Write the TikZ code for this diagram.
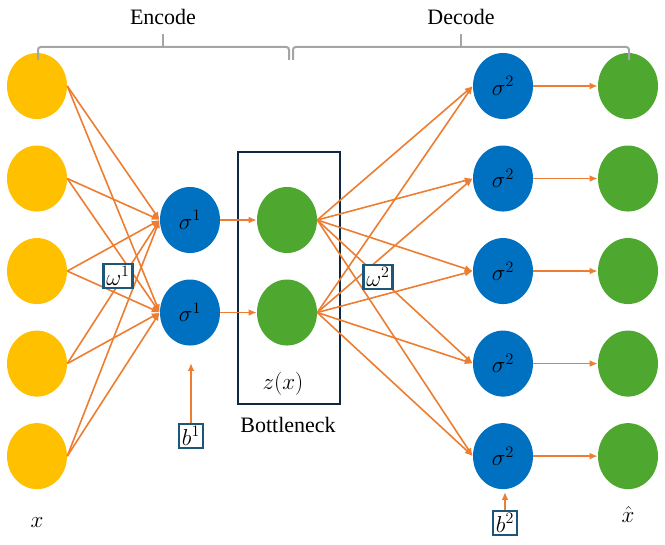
\documentclass[tikz,border=0pt]{standalone}
\usepackage{fontspec}
\setmainfont{Liberation Serif}
\usetikzlibrary{arrows.meta,positioning,shapes.geometric}
\definecolor{unitYellow}{HTML}{FFC000}
\definecolor{unitBlue}{HTML}{0070C0}
\definecolor{unitGreen}{HTML}{4EA72E}
\definecolor{wireOrange}{HTML}{ED7D31}
\definecolor{boxBlue}{RGB}{28,86,120}
\definecolor{frameDark}{RGB}{14,40,65}
\definecolor{braceGray}{RGB}{165,165,165}
\begin{document}
\begin{tikzpicture}[
		x=0.75pt, y=-0.75pt,
		node distance=19.5pt and 0.3cm,
		unit/.style={ellipse, minimum width=45pt, minimum height=49.5pt, inner sep=0pt, font=\fontsize{18}{22}\selectfont},
		inunit/.style={unit, fill=unitYellow},
		actunit/.style={unit, fill=unitBlue},
		codeunit/.style={unit, fill=unitGreen},
		keybox/.style={rectangle, draw=boxBlue, line width=1.8pt, fill=white, inner sep=2pt, font=\fontsize{18}{22}\selectfont},
		wire/.style={draw=wireOrange, line width=1.2pt, -{Latex[length=6pt,width=5pt]}},
		brace/.style={draw=braceGray, line width=1.5pt, rounded corners=2pt},
		lbl/.style={font=\fontsize{16.5}{20}\selectfont},
		mlbl/.style={font=\fontsize{18}{22}\selectfont}
	]
		\useasboundingbox (0,0) rectangle (665,545);
		
		% input layer
		\node[inunit] at (37,86)(x-1){};
		\node[inunit](x-2)[below =of x-1]{};
		\node[inunit](x-3)[below =of x-2]{};
		\node[inunit](x-4)[below =of x-3]{};
		\node[inunit](x-5)[below =of x-4]{};
		
		% encoder units and bottleneck
		\node[actunit] at (190,220)(h-1){$\sigma^1$};
		\node[actunit](h-2)[below =of h-1]{$\sigma^1$};
		\node[codeunit] at (287,220)(z-1){};
		\node[codeunit](z-2)[below =of z-1]{};
		\node[rectangle, draw=frameDark, line width=1.2pt, minimum width=76.5pt, minimum height=189pt] at (289,278)(bneck){};
		\node[mlbl] at (283,384)(zx){$z(x)$};
		\node[lbl] at (288,425)(bneck-lbl){Bottleneck};
		
		% decoder units and output
		\node[actunit] at (503,86)(o-1){$\sigma^2$};
		\node[actunit](o-2)[below =of o-1]{$\sigma^2$};
		\node[actunit](o-3)[below =of o-2]{$\sigma^2$};
		\node[actunit](o-4)[below =of o-3]{$\sigma^2$};
		\node[actunit](o-5)[below =of o-4]{$\sigma^2$};
		\node[codeunit] at (628,86)(y-1){};
		\node[codeunit](y-2)[below =of y-1]{};
		\node[codeunit](y-3)[below =of y-2]{};
		\node[codeunit](y-4)[below =of y-3]{};
		\node[codeunit](y-5)[below =of y-4]{};
		
		\draw[wire](x-1.east) -- (h-1.west);
		\draw[wire](x-1.east) -- (h-2.west);
		\draw[wire](x-2.east) -- (h-1.west);
		\draw[wire](x-2.east) -- (h-2.west);
		\draw[wire](x-3.east) -- (h-1.west);
		\draw[wire](x-3.east) -- (h-2.west);
		\draw[wire](x-4.east) -- (h-1.west);
		\draw[wire](x-4.east) -- (h-2.west);
		\draw[wire](x-5.east) -- (h-1.west);
		\draw[wire](x-5.east) -- (h-2.west);
		\draw[wire](h-1) -- (z-1);
		\draw[wire](h-2) -- (z-2);
		\draw[wire](z-1.east) -- (o-1.west);
		\draw[wire](z-1.east) -- (o-2.west);
		\draw[wire](z-1.east) -- (o-3.west);
		\draw[wire](z-1.east) -- (o-4.west);
		\draw[wire](z-1.east) -- (o-5.west);
		\draw[wire](z-2.east) -- (o-1.west);
		\draw[wire](z-2.east) -- (o-2.west);
		\draw[wire](z-2.east) -- (o-3.west);
		\draw[wire](z-2.east) -- (o-4.west);
		\draw[wire](z-2.east) -- (o-5.west);
		\draw[wire](o-1) -- (y-1);
		\draw[wire](o-2) -- (y-2);
		\draw[wire](o-3) -- (y-3);
		\draw[wire](o-4) -- (y-4);
		\draw[wire](o-5) -- (y-5);
		
		% weights and biases
		\node[keybox] at (118,276)(w-1){$\omega^1$};
		\node[keybox] at (378,277)(w-2){$\omega^2$};
		\node[keybox] at (191,436)(b-1){$b^1$};
		\node[keybox] at (505,523)(b-2){$b^2$};
		\coordinate (b-1-end) at (191,363);
		\coordinate (b-2-end) at (505,492);
		\draw[wire](b-1) -- (b-1-end);
		\draw[wire](b-2) -- (b-2-end);
		
		\node[mlbl] at (37,523)(x-lbl){$x$};
		\node[mlbl] at (628,515)(y-lbl){$\hat{x}$};
		
		% braces
		\draw[brace] (38,60) -- (38,47) -- (289,47) -- (289,60);
		\draw[brace] (163,47) -- (163,34);
		\draw[brace] (293,60) -- (293,47) -- (629,47) -- (629,60);
		\draw[brace] (461,47) -- (461,34);
		\node[lbl] at (163,17)(enc){Encode};
		\node[lbl] at (461,17)(dec){Decode};
	\end{tikzpicture}
\end{document}
